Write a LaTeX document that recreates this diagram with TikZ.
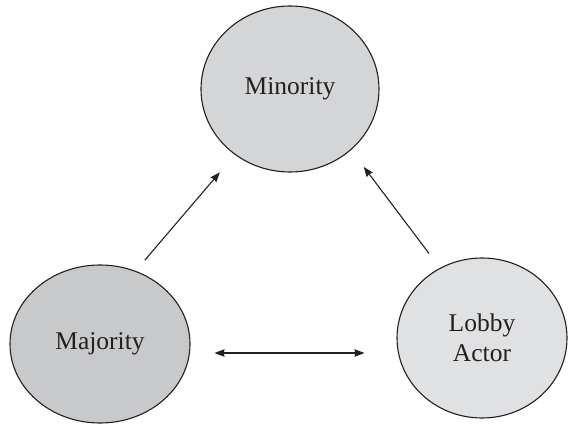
\documentclass[tikz,border=0pt]{standalone}
\usepackage{fontspec}
\setmainfont{Liberation Serif}
\usetikzlibrary{shapes.geometric,arrows.meta}
\definecolor{minofill}{RGB}{212,213,215}
\definecolor{majfill}{RGB}{200,201,203}
\definecolor{lobfill}{RGB}{224,225,227}
\definecolor{inkgray}{RGB}{35,31,32}
\begin{document}
\begin{tikzpicture}[x=1pt,y=1pt,->,>={Stealth[length=10pt,width=7.5pt,inset=1pt]},line width=1.1pt,draw=inkgray,
  every node/.style={ellipse,draw=inkgray,line width=1.1pt,inner sep=0pt,text=inkgray,font=\fontsize{25.5}{30}\selectfont,align=center}]
  \useasboundingbox (0,0) rectangle (568,424);
  \node (mino) [fill=minofill,minimum width=178pt,minimum height=166pt] at (290,335) {Minority};
  \node (maj) [fill=majfill,minimum width=180pt,minimum height=158pt] at (100,80) {Majority};
  \node (lobby) [fill=lobfill,minimum width=170pt,minimum height=160pt] at (482,86) {Lobby\\Actor};
  \draw[shorten <=14pt,shorten >=23pt] (maj.64)--(mino.230);
  \draw[shorten <=18pt,shorten >=21pt] (lobby.121)--(mino.315);
  \draw[<->,shorten <=24pt,shorten >=32pt] ([yshift=-9pt]maj.east)--([yshift=-9pt]maj.east -| lobby.west);
\end{tikzpicture}
\end{document}
